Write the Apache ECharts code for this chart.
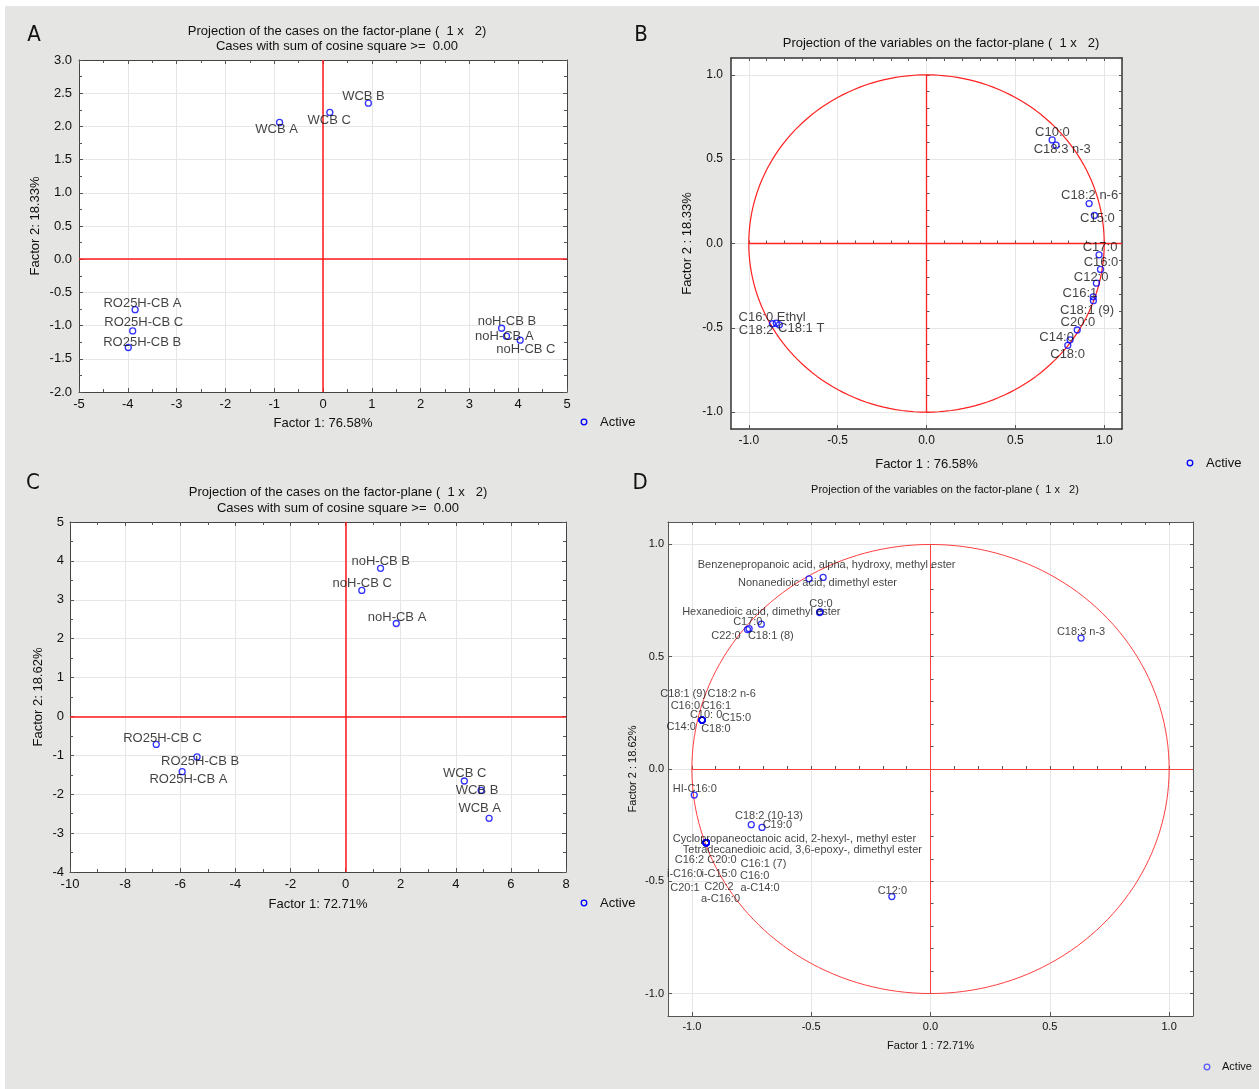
<!DOCTYPE html>
<html>
<head>
<meta charset="utf-8">
<script src="https://cdn.jsdelivr.net/npm/echarts@6/dist/echarts.min.js"></script>
<style>
  html, body { margin:0; padding:0; background:#ffffff; }
  #bg { position:absolute; left:5px; top:6px; width:1254px; height:1083px; background:#e5e5e3; }
  #chart { position:absolute; left:0; top:0; width:1259px; height:1089px; }
</style>
</head>
<body>
<div id="bg"></div>
<div id="chart"></div>
<script>
// ---------------- DATA ----------------
// Panel A: projection of the cases (factor 1 x 2)
const casesA_names = ['WCB A','WCB B','WCB C','RO25H-CB A','RO25H-CB B','RO25H-CB C','noH-CB A','noH-CB B','noH-CB C'];
const casesA_f1 = [-0.89, 0.93, 0.14, -3.85, -3.99, -3.90, 3.76, 3.66, 4.04];
const casesA_f2 = [2.06, 2.35, 2.21, -0.76, -1.33, -1.08, -1.16, -1.04, -1.22];

// Panel B: projection of the variables
const varsB_names = ['C10:0','C18:3 n-3','C18:2 n-6','C15:0','C17:0','C16:0','C12:0','C16:1','C18:1 (9)','C20:0','C14:0','C18:0','C16:0 Ethyl','C18:2','C18:1 T'];
const varsB_f1 = [0.707, 0.729, 0.915, 0.945, 0.971, 0.979, 0.956, 0.938, 0.939, 0.848, 0.808, 0.795, -0.845, -0.867, -0.828];
const varsB_f2 = [0.614, 0.583, 0.237, 0.166, -0.067, -0.154, -0.235, -0.316, -0.339, -0.513, -0.571, -0.604, -0.473, -0.476, -0.482];

// Panel C: projection of the cases
const casesC_names = ['noH-CB A','noH-CB B','noH-CB C','RO25H-CB A','RO25H-CB B','RO25H-CB C','WCB A','WCB B','WCB C'];
const casesC_f1 = [1.84, 1.27, 0.59, -5.93, -5.39, -6.87, 5.21, 4.92, 4.31];
const casesC_f2 = [2.39, 3.81, 3.24, -1.42, -1.04, -0.72, -2.62, -1.90, -1.66];

// Panel D: projection of the variables
const varsD_names = [
  'Benzenepropanoic acid, alpha, hydroxy, methyl ester','Nonanedioic acid, dimethyl ester','C9:0','Hexanedioic acid, dimethyl ester',
  'C17:0','C22:0','C18:1 (8)',
  'C18:1 (9)','C18:2 n-6','C16:0','C16:1','C10: 0','C15:0','C14:0','C18:0',
  'C18:3 n-3','HI-C16:0','C18:2 (10-13)','C19:0',
  'Cyclopropaneoctanoic acid, 2-hexyl-, methyl ester','Tetradecanedioic acid, 3,6-epoxy-, dimethyl ester',
  'C16:2','C20:0','C16:1 (7)','i-C16:0','i-C15:0','C16:0','C20:1','C20:2','a-C14:0','a-C16:0',
  'C12:0'
];
const varsD_f1 = [
  -0.450, -0.509, -0.462, -0.465,
  -0.709, -0.767, -0.760,
  -0.957, -0.957, -0.957, -0.957, -0.957, -0.957, -0.957, -0.957,
  0.631, -0.990, -0.751, -0.706,
  -0.940, -0.940,
  -0.940, -0.940, -0.940, -0.940, -0.940, -0.940, -0.940, -0.940, -0.940, -0.940,
  -0.162
];
const varsD_f2 = [
  0.853, 0.847, 0.700, 0.697,
  0.645, 0.621, 0.625,
  0.218, 0.218, 0.218, 0.218, 0.218, 0.218, 0.218, 0.218,
  0.583, -0.116, -0.248, -0.260,
  -0.328, -0.328,
  -0.328, -0.328, -0.328, -0.328, -0.328, -0.328, -0.328, -0.328, -0.328, -0.328,
  -0.568
];

// axis tick labels of the correlation-circle panels
const ticksUnit = [-1, -0.5, 0, 0.5, 1];

// ---------------- LAYOUT (label placement, px offsets) ----------------
const offA = [[-3,7.3],[-4.9,-6.3],[-0.6,8],[7.3,-6.3],[13.9,-5.3],[11,-8.7],[-2.2,0],[5.3,-6.7],[5.7,9.7]];
const offB = [[0.3,-7.3],[6.2,4],[0.5,-7.7],[3,3.3],[1,-7.3],[0.5,-7],[-5.3,-6],[-13.3,-3.7],[-6.3,9.3],[0.7,-8],[-13.5,-2.3],[-0.2,8.7],[-4.2,-6],[-16.2,6.7],[21.9,3.3]];
const offC = [[0.8,-6.3],[0.2,-7],[0.4,-6.7],[6.3,8],[3.1,4.7],[6.3,-5.7],[-9.4,-9.7],[-4.1,-0.3],[0.4,-7.3]];
const offD = [
  [3.5,-12.7],[8.5,4],[0.7,-8],[-58.2,-0.7],
  [-13.5,-1.7],[-21.5,6],[21.7,7],
  [-19,-26.3],[29.5,-26.3],[-16.8,-14.3],[14.2,-14.3],[4,-5.3],[34.3,-2.3],[-21,7],[13.7,9],
  [0,-6],[0.5,-5.7],[17.7,-9],[15.3,-2.3],
  [88.2,-4],[96.2,7],
  [-16.8,17.7],[15.7,17.7],[57.2,21.3],[-21.5,31.3],[13,31.3],[48.5,33.3],[-21.3,45.7],[12.7,44.3],[53.8,45.7],[14.3,56],
  [0.5,-5.7]
];

const FONT = '"Liberation Sans", Arial, Helvetica, sans-serif';
const AX = '#555555';

function fmt1(v){ return Number(v).toFixed(1); }

// minor tick positions for the correlation-circle panels
const minorUnit = [];
for (let i = -11; i <= 11; i++) minorUnit.push(i / 10);

const xAxis = [], yAxis = [];
const mainX = [], mainY = [];

function addAxes(p, cfg) {
  const common = (ax) => ({ type: 'value', gridIndex: p, min: ax.min, max: ax.max, interval: ax.interval, splitNumber: ax.splitNumber });
  const tickStyle = { color: AX, width: 1 };
  const line = { show: true, onZero: false, lineStyle: { color: cfg.frame, width: cfg.frameW } };
  const majorTick = cfg.custom ? { show: true, inside: true, length: 4, customValues: ticksUnit, lineStyle: tickStyle }
                               : { show: true, inside: true, length: 4, lineStyle: tickStyle };
  const minorTk = cfg.custom ? { show: false } : { show: true, splitNumber: 2, length: 3, lineStyle: tickStyle };
  const allTick = cfg.custom ? { show: true, inside: true, length: 3, customValues: minorUnit, lineStyle: tickStyle } : majorTick;
  const split = { show: true, lineStyle: { color: '#e6e6e6', width: 1 } };
  const nameStyle = { fontSize: cfg.fs2, color: '#111', fontFamily: FONT };

  mainX[p] = xAxis.length;
  xAxis.push(Object.assign(common(cfg.x), {
    position: 'bottom', axisLine: line, axisTick: majorTick, minorTick: minorTk,
    axisLabel: Object.assign({ show: true, fontSize: cfg.fs, color: '#111', fontFamily: FONT, margin: cfg.xMargin, formatter: cfg.x.fmt },
      cfg.custom ? { customValues: ticksUnit } : {}),
    splitLine: split,
    name: cfg.xName, nameLocation: 'middle', nameGap: cfg.xNameGap, nameTextStyle: nameStyle
  }));
  xAxis.push(Object.assign(common(cfg.x), {
    position: 'top', axisLine: line, axisTick: allTick, minorTick: minorTk, axisLabel: { show: false }, splitLine: { show: false }
  }));
  if (cfg.custom) {
    xAxis.push(Object.assign(common(cfg.x), {
      position: 'bottom', offset: 0, axisLine: { show: false }, axisTick: allTick, minorTick: { show: false },
      axisLabel: { show: false }, splitLine: { show: false }
    }));
  }

  mainY[p] = yAxis.length;
  yAxis.push(Object.assign(common(cfg.y), {
    position: 'left', axisLine: line, axisTick: majorTick, minorTick: minorTk,
    axisLabel: Object.assign({ show: true, fontSize: cfg.fs, color: '#111', fontFamily: FONT, margin: cfg.yMargin, formatter: cfg.y.fmt },
      cfg.custom ? { customValues: ticksUnit } : {}),
    splitLine: split,
    name: cfg.yName, nameLocation: 'middle', nameGap: cfg.yNameGap, nameTextStyle: nameStyle
  }));
  yAxis.push(Object.assign(common(cfg.y), {
    position: 'right', axisLine: line, axisTick: allTick, minorTick: minorTk, axisLabel: { show: false }, splitLine: { show: false }
  }));
  if (cfg.custom) {
    yAxis.push(Object.assign(common(cfg.y), {
      position: 'left', offset: 0, axisLine: { show: false }, axisTick: allTick, minorTick: { show: false },
      axisLabel: { show: false }, splitLine: { show: false }
    }));
  }
}

addAxes(0, { x: { min: -5, max: 5, interval: 1 }, y: { min: -2, max: 3, interval: 0.5, fmt: fmt1 },
  fs: 13, fs2: 13, xMargin: 6, yMargin: 7, frame: '#444', frameW: 1,
  xName: 'Factor 1: 76.58%', xNameGap: 25, yName: 'Factor 2: 18.33%', yNameGap: 37 });
addAxes(1, { x: { min: -1.1, max: 1.1, splitNumber: 4, fmt: fmt1 }, y: { min: -1.1, max: 1.1, splitNumber: 4, fmt: fmt1 },
  custom: true, fs: 12, fs2: 13, xMargin: 6, yMargin: 8, frame: '#333', frameW: 1.5,
  xName: 'Factor 1 : 76.58%', xNameGap: 29, yName: 'Factor 2 : 18.33%', yNameGap: 37 });
addAxes(2, { x: { min: -10, max: 8, interval: 2 }, y: { min: -4, max: 5, interval: 1 },
  fs: 13, fs2: 13, xMargin: 6, yMargin: 6, frame: '#444', frameW: 1,
  xName: 'Factor 1: 72.71%', xNameGap: 26, yName: 'Factor 2: 18.62%', yNameGap: 25 });
addAxes(3, { x: { min: -1.1, max: 1.1, splitNumber: 4, fmt: fmt1 }, y: { min: -1.1, max: 1.1, splitNumber: 4, fmt: fmt1 },
  custom: true, fs: 11, fs2: 11, xMargin: 5, yMargin: 4, frame: '#555', frameW: 1,
  xName: 'Factor 1 : 72.71%', xNameGap: 24, yName: 'Factor 2 : 18.62%', yNameGap: 30 });

function points(names, f1, f2, offs) {
  return names.map((n, i) => ({ name: n, value: [f1[i], f2[i]], label: { offset: offs[i] } }));
}

// unit circle (reference shape of the correlation circle)
const unitCircle = [];
for (let a = 0; a <= 360; a += 2) {
  const r = a * Math.PI / 180;
  unitCircle.push([Math.cos(r), Math.sin(r)]);
}

const grids = [
  { left: 79, top: 60, width: 488, height: 332 },
  { left: 731, top: 58, width: 391, height: 371 },
  { left: 70, top: 522, width: 496, height: 350 },
  { left: 668, top: 522, width: 525, height: 494 }
].map(g => Object.assign({ show: true, backgroundColor: '#ffffff', borderWidth: 0, containLabel: false }, g));

function scatter(p, data, fs, color, bw, redLines) {
  return {
    type: 'scatter', name: 'Active', xAxisIndex: mainX[p], yAxisIndex: mainY[p],
    data: data, symbol: 'circle', symbolSize: 6,
    itemStyle: { color: 'rgba(255,255,255,0)', borderColor: color, borderWidth: bw },
    label: { show: true, position: 'inside', formatter: '{b}', fontSize: fs, color: '#111', fontFamily: FONT },
    emphasis: { disabled: true },
    z: 5,
    markLine: redLines
  };
}

const redFull = { silent: true, symbol: ['none', 'none'], label: { show: false },
  lineStyle: { color: '#ff1a1a', width: 1.5, type: 'solid' }, emphasis: { disabled: true },
  data: [{ xAxis: 0 }, { yAxis: 0 }] };
function redCross(w, c) {
  return { silent: true, symbol: ['none', 'none'], label: { show: false },
    lineStyle: { color: c, width: w, type: 'solid' }, emphasis: { disabled: true },
    data: [[{ coord: [-1, 0] }, { coord: [1.1, 0] }], [{ coord: [0, -1] }, { coord: [0, 1] }]] };
}
function circleSeries(p, w, c) {
  return { type: 'line', xAxisIndex: mainX[p], yAxisIndex: mainY[p], data: unitCircle, showSymbol: false,
    lineStyle: { color: c, width: w }, silent: true, z: 3, emphasis: { disabled: true } };
}

const series = [
  scatter(0, points(casesA_names, casesA_f1, casesA_f2, offA), 13, '#0000ff', 1.3, redFull),
  circleSeries(1, 1.2, '#ff2020'),
  scatter(1, points(varsB_names, varsB_f1, varsB_f2, offB), 13, '#0000ff', 1.3, redCross(1.3, '#ff2020')),
  scatter(2, points(casesC_names, casesC_f1, casesC_f2, offC), 13, '#0000ff', 1.3, redFull),
  circleSeries(3, 1, '#ff4040'),
  scatter(3, points(varsD_names, varsD_f1, varsD_f2, offD), 11, '#0000ff', 1.3, redCross(1, '#ff4040'))
];

const titleStyle = (fs, lh) => ({ fontSize: fs, fontWeight: 'normal', color: '#111', fontFamily: FONT, lineHeight: lh });
const title = [
  { text: 'Projection of the cases on the factor-plane (  1 x   2)\nCases with sum of cosine square >=  0.00', left: 332, top: 19, textAlign: 'center', textStyle: titleStyle(13, 15) },
  { text: 'Projection of the variables on the factor-plane (  1 x   2)', left: 936, top: 31, textAlign: 'center', textStyle: titleStyle(13, 15) },
  { text: 'Projection of the cases on the factor-plane (  1 x   2)\nCases with sum of cosine square >=  0.00', left: 333, top: 479, textAlign: 'center', textStyle: titleStyle(13, 16) },
  { text: 'Projection of the variables on the factor-plane (  1 x   2)', left: 940, top: 478, textAlign: 'center', textStyle: titleStyle(11, 13) }
];

function letter(t, x, y) {
  return { type: 'text', x: x, y: y, style: { text: t, font: '22px "Liberation Sans Narrow", "DejaVu Sans Condensed", sans-serif',
    fill: '#111', textAlign: 'center', textVerticalAlign: 'middle', verticalAlign: 'middle' }, z: 10 };
}
function legend(cx, cy, tx, fs, col) {
  return [
    { type: 'circle', shape: { cx: cx, cy: cy, r: 2.8 }, style: { fill: 'none', stroke: col, lineWidth: 1.3 }, z: 10 },
    { type: 'text', x: tx, y: cy, style: { text: 'Active', font: fs + 'px ' + FONT, fill: '#111',
      textVerticalAlign: 'middle', verticalAlign: 'middle' }, z: 10 }
  ];
}
const graphic = [
  letter('A', 34, 35), letter('B', 641, 35), letter('C', 33, 483), letter('D', 640, 483)
].concat(legend(584, 422, 600, 13, '#0000ff'), legend(1190, 463, 1206, 13, '#0000ff'),
         legend(584, 903, 600, 13, '#0000ff'), legend(1207, 1067, 1222, 11, '#5a5aff'));

const chart = echarts.init(document.getElementById('chart'), null, { renderer: 'canvas' });
chart.setOption({
  animation: false,
  backgroundColor: 'transparent',
  textStyle: { fontFamily: FONT },
  title: title,
  grid: grids,
  xAxis: xAxis,
  yAxis: yAxis,
  series: series,
  graphic: graphic
});
</script>
</body>
</html>
